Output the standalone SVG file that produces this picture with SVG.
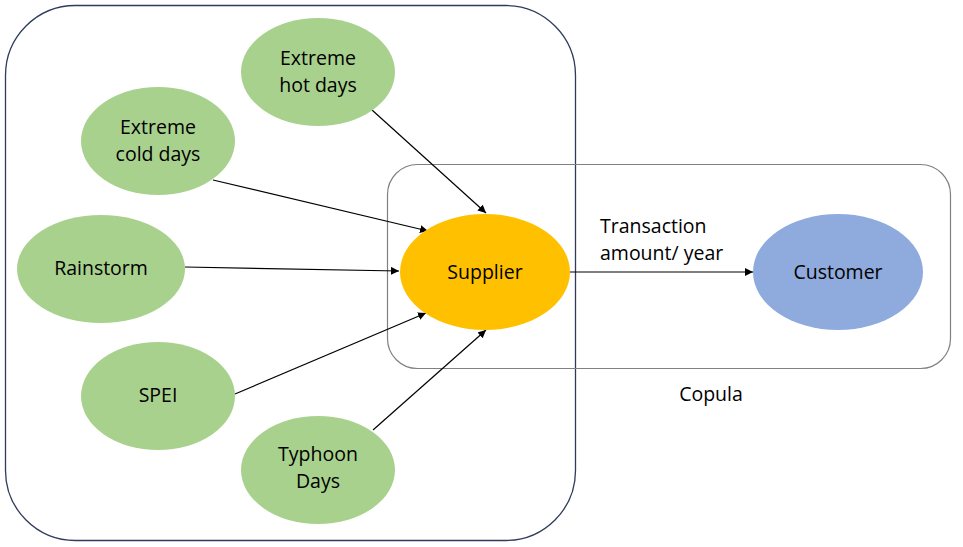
<svg xmlns="http://www.w3.org/2000/svg" width="963" height="547" viewBox="0 0 963 547">
<style>
.t{font-family:"Open Sans","Liberation Sans",sans-serif;font-size:19.5px;fill:#000;text-anchor:middle}
.tl{font-family:"Open Sans","Liberation Sans",sans-serif;font-size:19.5px;fill:#000}
.g{fill:#A9D18E;stroke:none}
.e{stroke:#000;stroke-width:1.2;fill:none;marker-end:url(#ah)}
</style>
<defs>
<marker id="ah" viewBox="0 0 10 10" refX="10" refY="5" markerWidth="8" markerHeight="8" markerUnits="userSpaceOnUse" orient="auto">
<path d="M0,0 L10,5 L0,10 z" fill="#000"/>
</marker>
</defs>
<rect width="963" height="547" fill="#fff"/>
<g id="outer-box"><rect x="5.5" y="5.5" width="570" height="535" rx="70" fill="none" stroke="#2F3B5C" stroke-width="1.3"/></g>
<g id="copula-box"><rect x="387.5" y="164.5" width="563" height="204" rx="30" fill="none" stroke="#808080" stroke-width="1.2"/>
<text class="t" x="711" y="401">Copula</text></g>
<g id="connectors">
<line class="e" x1="372" y1="110" x2="486" y2="213"/>
<line class="e" x1="213" y1="180" x2="428" y2="231"/>
<line class="e" x1="185" y1="267" x2="399" y2="271"/>
<line class="e" x1="235" y1="394" x2="426" y2="313"/>
<line class="e" x1="373" y1="430" x2="486" y2="330"/>
<line class="e" x1="570" y1="272" x2="753" y2="272"/>
<text class="tl" x="600" y="233">Transaction</text>
<text class="tl" x="600" y="260">amount/ year</text>
</g>
<g id="hot"><ellipse class="g" cx="318" cy="72" rx="77" ry="54"/><text class="t" x="318" y="65">Extreme</text><text class="t" x="318" y="92">hot days</text></g>
<g id="cold"><ellipse class="g" cx="158" cy="141" rx="77" ry="54"/><text class="t" x="158" y="134">Extreme</text><text class="t" x="158" y="161">cold days</text></g>
<g id="rainstorm"><ellipse class="g" cx="101" cy="269" rx="84" ry="54"/><text class="t" x="101" y="275">Rainstorm</text></g>
<g id="spei"><ellipse class="g" cx="158" cy="396" rx="77" ry="54"/><text class="t" x="158" y="402">SPEI</text></g>
<g id="typhoon"><ellipse class="g" cx="318" cy="470" rx="77" ry="54"/><text class="t" x="318" y="461">Typhoon</text><text class="t" x="318" y="488">Days</text></g>
<g id="supplier"><ellipse cx="485" cy="272" rx="85" ry="58" fill="#FFC000"/><text class="t" x="485" y="279">Supplier</text></g>
<g id="customer"><ellipse cx="838" cy="272" rx="85" ry="58" fill="#8FAADC"/><text class="t" x="838" y="279">Customer</text></g>
</svg>
